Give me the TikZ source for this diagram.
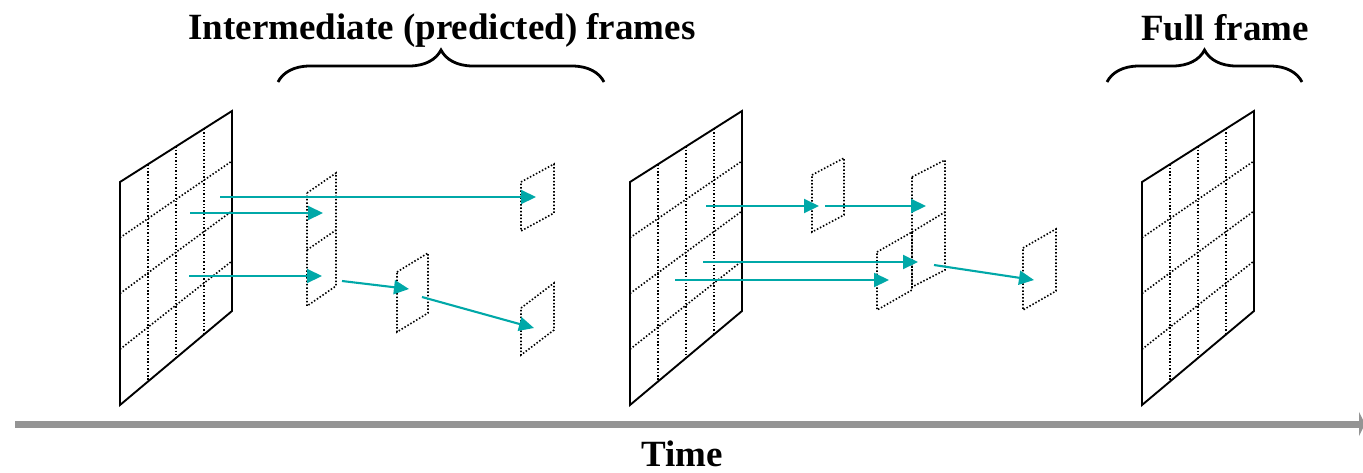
\documentclass[tikz,border=0pt]{standalone}
\usepackage{fontspec}
\setmainfont{Liberation Serif}
\usetikzlibrary{arrows.meta,calc,decorations.pathreplacing}

\definecolor{flowteal}{RGB}{0,168,168}
\definecolor{axisgray}{RGB}{148,148,148}

% dotted block: x, y (top left), width, rise, height
\newcommand{\patch}[5]{%
  \draw[patch line] (#1,#2) -- ++(#3,-#4) -- ++(0,#5) -- ++(-#3,#4) -- cycle;}

\begin{document}
\begin{tikzpicture}[x=1pt,y=-1pt,
	frame/.style = {draw, line width=1.9pt, line join=miter},
	grid line/.style = {line width=1.6pt, dash pattern=on 1.5pt off 1.9pt},
	patch line/.style = {grid line},
	flow/.style = {draw=flowteal, line width=2.1pt, -{Triangle[length=15pt,width=14pt]}},
	brace/.style = {decorate, decoration={brace, amplitude=32pt}, line width=2.8pt},
	label/.style = {font=\bfseries\fontsize{37}{40}\selectfont, inner sep=0pt, anchor=base}]

\useasboundingbox (0,0) rectangle (1363,472);

% big frames with a 4x4 grid
\foreach \s/\f in {0/a,510/b,1022/c}{
	\begin{scope}[xshift=\s pt]
	\coordinate (\f tl) at (120,182);
	\coordinate (\f tr) at (232,111);
	\coordinate (\f br) at (232,311);
	\coordinate (\f bl) at (120,405);
	\foreach \t in {0.25,0.5,0.75}{
		\draw[grid line] ($(\f tl)!\t!(\f tr)$) -- ($(\f bl)!\t!(\f br)$);
		\draw[grid line] ($(\f tl)!\t!(\f bl)$) -- ($(\f tr)!\t!(\f br)$);
	}
	\draw[frame] (\f bl) -- (\f tl) -- (\f tr) -- (\f br) -- cycle;
	\end{scope}
}

% predicted blocks
\patch{307}{193}{29}{20}{113}
\draw[patch line] (307,250) -- (336,230);
\patch{521}{182}{33}{18}{49}
\patch{397}{272}{31}{19}{60}
\patch{521}{308}{33}{25}{47}
\patch{812}{175}{32}{17}{57}
\patch{912}{177}{33}{17}{110}
\draw[patch line] (912,232) -- (945,212);
\patch{877}{252}{35}{20}{58}
\patch{1023}{248}{33}{19}{62}

% motion vectors
\coordinate (s1) at (220,197);  \coordinate (e1) at (536,197);
\coordinate (s2) at (190,213);  \coordinate (e2) at (323,213);
\coordinate (s3) at (189,276);  \coordinate (e3) at (322,276);
\coordinate (s4) at (342,281);  \coordinate (e4) at (409,289);
\coordinate (s5) at (422,297);  \coordinate (e5) at (534,328);
\coordinate (s6) at (706,206);  \coordinate (e6) at (819,206);
\coordinate (s7) at (825,206);  \coordinate (e7) at (926,206);
\coordinate (s8) at (703,262);  \coordinate (e8) at (918,262);
\coordinate (s9) at (675,280);  \coordinate (e9) at (889,280);
\coordinate (s10) at (934,265); \coordinate (e10) at (1034,280);
\foreach \i in {1,...,10}
	\draw[flow] (s\i) -- (e\i);

% braces and labels
\draw[brace] (278,82) -- (604,82);
\draw[brace] (1107,82) -- (1302,82);
\node[label] (inter) at (442,39) {Intermediate (predicted) frames};
\node[label] (full) at (1225,40) {Full frame};

% time axis
\coordinate (t0) at (15,424);
\coordinate (t1) at (1365,424);
\draw[draw=axisgray, line width=7pt, -{Triangle[length=6pt,width=24pt]}] (t0) -- (t1);
\node[label] (time) at (682,466) {Time};
\end{tikzpicture}
\end{document}
